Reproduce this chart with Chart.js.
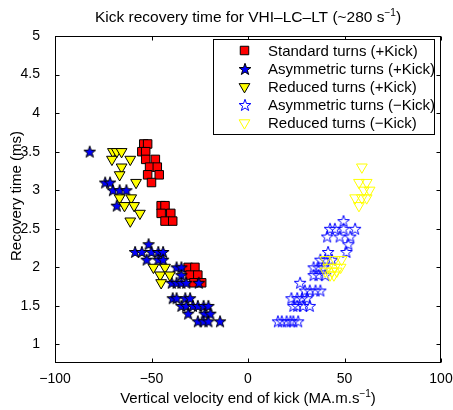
<!DOCTYPE html>
<html>
<head>
<meta charset="utf-8">
<script src="https://cdn.jsdelivr.net/npm/chart.js@4.4.1/dist/chart.umd.min.js"></script>
<style>
  html, body { margin: 0; padding: 0; background: #fff; }
</style>
</head>
<body>
<canvas id="recovery-chart" width="453" height="410"></canvas>
<script>
// values
const standardPlusX = [-54, -52, -55, -53, -53, -48, -51, -47, -52, -46, -50, -45, -43, -45, -40, -43, -39, -31, -27.5, -30, -26, -28, -24];
const standardPlusY = [3.6, 3.6, 3.5, 3.5, 3.4, 3.4, 3.3, 3.3, 3.2, 3.2, 3.1, 2.8, 2.8, 2.7, 2.7, 2.6, 2.6, 2.0, 2.0, 1.9, 1.9, 1.8, 1.8];

const asymPlusX = [-82, -74, -71.5, -70, -66.5, -63, -68, -51.5, -58.5, -55, -50, -46.5, -44, -52.5, -46.5, -44, -37, -34.5, -34.5, -39.5, -37, -34.5, -32, -25.5, -39, -37, -32.5, -30, -34.5, -32, -28.5, -26, -23, -20.5, -31, -22.5, -19.5, -26, -23, -20.5, -14.5];
const asymPlusY = [3.5, 3.1, 3.1, 3.0, 3.0, 3.0, 2.8, 2.3, 2.2, 2.2, 2.2, 2.2, 2.2, 2.1, 2.1, 2.1, 2.0, 2.0, 1.9, 1.8, 1.8, 1.8, 1.8, 1.8, 1.6, 1.6, 1.6, 1.6, 1.5, 1.5, 1.5, 1.5, 1.5, 1.5, 1.4, 1.4, 1.4, 1.3, 1.3, 1.3, 1.3];

const reducedPlusX = [-70, -68, -65.5, -70.5, -61, -65.5, -66.5, -58, -66.5, -60.5, -64, -59, -56, -61, -49, -43, -45.5, -40.5, -45];
const reducedPlusY = [3.5, 3.5, 3.5, 3.4, 3.4, 3.3, 3.2, 3.1, 2.9, 2.9, 2.8, 2.8, 2.7, 2.6, 2.0, 2.0, 1.9, 1.9, 1.8];

const asymMinusX = [49.5, 42.5, 45, 49.5, 55.5, 41, 47.5, 53, 52, 51, 41.5, 40, 43.5, 37.5, 34, 36.5, 39, 34, 36.5, 40, 27, 29.5, 32, 35, 37.5, 22.5, 25.5, 28, 30.5, 23.5, 25.5, 28.5, 32, 15.5, 17.5, 20, 22, 23.5, 26];
const asymMinusY = [2.6, 2.5, 2.5, 2.5, 2.5, 2.4, 2.4, 2.4, 2.3, 2.2, 2.2, 2.1, 2.1, 2.1, 2.0, 2.0, 2.0, 1.9, 1.9, 1.9, 1.8, 1.7, 1.7, 1.7, 1.7, 1.6, 1.6, 1.6, 1.6, 1.5, 1.5, 1.5, 1.5, 1.3, 1.3, 1.3, 1.3, 1.3, 1.3];

const reducedMinusX = [59, 57.5, 61.5, 60, 63, 55.5, 59, 61.5, 57.5, 40, 45, 48.5, 41.5, 45, 48, 40, 43.5, 46, 42.5, 44.5];
const reducedMinusY = [3.3, 3.1, 3.1, 3.0, 3.0, 2.9, 2.9, 2.9, 2.8, 2.1, 2.1, 2.1, 2.0, 2.0, 2.0, 1.95, 1.95, 1.95, 1.9, 1.9];

const seriesLabels = [
  "Standard turns (+Kick)",
  "Asymmetric turns (+Kick)",
  "Reduced turns (+Kick)",
  "Asymmetric turns (\u2212Kick)",
  "Reduced turns (\u2212Kick)",
];
const xTicks = [-100, -50, 0, 50, 100];
const yTicks = [1, 1.5, 2, 2.5, 3, 3.5, 4, 4.5, 5];

const FAMILY = '"Liberation Sans", Arial, Helvetica, sans-serif';
const TITLE_FONT = "15.5px " + FAMILY;
const LABEL_FONT = "15px " + FAMILY;
const SUP_FONT = "10px " + FAMILY;

function toPoints(xs, ys) {
  return xs.map((x, i) => ({ x: x, y: ys[i] }));
}

// MATLAB style pentagram marker
function makeStar(fill, stroke) {
  const size = 14;
  const c = document.createElement("canvas");
  c.width = size;
  c.height = size;
  const g = c.getContext("2d");
  const cx = size / 2, cy = size / 2 + 0.5;
  const R = 6.2, r = R * 0.4;
  g.beginPath();
  for (let i = 0; i < 10; i++) {
    const ang = -Math.PI / 2 + (i * Math.PI) / 5;
    const rad = i % 2 ? r : R;
    const px = cx + Math.cos(ang) * rad;
    const py = cy + Math.sin(ang) * rad;
    if (i === 0) g.moveTo(px, py);
    else g.lineTo(px, py);
  }
  g.closePath();
  if (fill) {
    g.fillStyle = fill;
    g.fill();
  }
  g.lineWidth = 1;
  g.strokeStyle = stroke;
  g.stroke();
  return c;
}

const filledStar = makeStar("#0000ff", "#000000");
const openStar = makeStar(null, "#0000ff");

const datasets = [
  {
    label: seriesLabels[0],
    data: toPoints(standardPlusX, standardPlusY),
    pointStyle: "rect",
    pointRadius: 6,
    backgroundColor: "#ff0000",
    borderColor: "#000000",
    borderWidth: 1,
    order: 5,
  },
  {
    label: seriesLabels[1],
    data: toPoints(asymPlusX, asymPlusY),
    pointStyle: filledStar,
    pointRadius: 6,
    order: 4,
  },
  {
    label: seriesLabels[2],
    data: toPoints(reducedPlusX, reducedPlusY),
    pointStyle: "triangle",
    pointRotation: 180,
    pointRadius: 6.2,
    backgroundColor: "#ffff00",
    borderColor: "#000000",
    borderWidth: 1,
    order: 3,
  },
  {
    label: seriesLabels[3],
    data: toPoints(asymMinusX, asymMinusY),
    pointStyle: openStar,
    pointRadius: 6,
    order: 2,
  },
  {
    label: seriesLabels[4],
    data: toPoints(reducedMinusX, reducedMinusY),
    pointStyle: "triangle",
    pointRotation: 180,
    pointRadius: 6.2,
    backgroundColor: "rgba(0,0,0,0)",
    borderColor: "#ffff00",
    borderWidth: 1,
    order: 1,
  },
];

// text with a trailing "-1" superscript, like the MATLAB tex labels
function drawSupText(ctx, font, before, sup, after, cx, baseline) {
  ctx.font = font;
  const w1 = ctx.measureText(before).width;
  const w3 = ctx.measureText(after).width;
  ctx.font = SUP_FONT;
  const w2 = ctx.measureText(sup).width;
  let x = cx - (w1 + w2 + w3) / 2;
  ctx.textAlign = "left";
  ctx.textBaseline = "alphabetic";
  ctx.font = font;
  ctx.fillText(before, x, baseline);
  x += w1;
  ctx.font = SUP_FONT;
  ctx.fillText(sup, x, baseline - 6);
  x += w2;
  ctx.font = font;
  ctx.fillText(after, x, baseline);
}

function drawMarker(ctx, ds, x, y) {
  const style = ds.pointStyle;
  if (style instanceof HTMLCanvasElement) {
    ctx.drawImage(style, Math.round(x - style.width / 2), Math.round(y - style.height / 2));
    return;
  }
  ctx.beginPath();
  if (style === "rect") {
    const s = ds.pointRadius * Math.SQRT1_2;
    ctx.rect(x - s, y - s, 2 * s, 2 * s);
  } else {
    const r = ds.pointRadius;
    ctx.moveTo(x, y + r);
    ctx.lineTo(x - r * Math.sin(Math.PI / 3), y - r / 2);
    ctx.lineTo(x + r * Math.sin(Math.PI / 3), y - r / 2);
    ctx.closePath();
  }
  ctx.fillStyle = ds.backgroundColor;
  ctx.fill();
  ctx.lineWidth = ds.borderWidth;
  ctx.strokeStyle = ds.borderColor;
  ctx.stroke();
}

const matlabAxes = {
  id: "matlabAxes",
  afterDraw(chart) {
    const { ctx, chartArea: a, scales } = chart;
    const L = Math.round(a.left) + 0.5, R = Math.round(a.right) - 0.5;
    const T = Math.round(a.top) + 0.5, B = Math.round(a.bottom) - 0.5;
    const tickLen = 4;
    ctx.save();
    ctx.strokeStyle = "#000";
    ctx.lineWidth = 1;
    ctx.strokeRect(L, T, R - L, B - T);

    ctx.beginPath();
    xTicks.forEach((v) => {
      const px = Math.round(scales.x.getPixelForValue(v)) + 0.5;
      ctx.moveTo(px, B);
      ctx.lineTo(px, B - tickLen);
      ctx.moveTo(px, T);
      ctx.lineTo(px, T + tickLen);
    });
    yTicks.forEach((v) => {
      const py = Math.round(scales.y.getPixelForValue(v)) + 0.5;
      ctx.moveTo(L, py);
      ctx.lineTo(L + tickLen, py);
      ctx.moveTo(R, py);
      ctx.lineTo(R - tickLen, py);
    });
    ctx.stroke();

    ctx.fillStyle = "#000";
    const midX = (a.left + a.right) / 2;
    drawSupText(ctx, TITLE_FONT, "Kick recovery time for VHI\u2013LC\u2013LT (~280 s", "\u22121", ")", midX, 22);
    drawSupText(ctx, LABEL_FONT, "Vertical velocity end of kick (MA.m.s", "\u22121", ")", midX, 403);

    ctx.save();
    ctx.translate(20.5, 196);
    ctx.rotate(-Math.PI / 2);
    ctx.font = LABEL_FONT;
    ctx.textAlign = "center";
    ctx.textBaseline = "alphabetic";
    ctx.fillText("Recovery time (ms)", 0, 0);
    ctx.restore();

    // legend box
    ctx.fillStyle = "#fff";
    ctx.fillRect(213.5, 39.5, 221, 95);
    ctx.strokeRect(213.5, 39.5, 221, 95);
    datasets.forEach((ds, i) => {
      const base = 55.8 + i * 18.1;
      drawMarker(ctx, ds, 244.5, base - 5.3);
      ctx.fillStyle = "#000";
      ctx.font = LABEL_FONT;
      ctx.textAlign = "left";
      ctx.textBaseline = "alphabetic";
      ctx.fillText(ds.label, 268, base);
    });
    ctx.restore();
  },
};

new Chart(document.getElementById("recovery-chart"), {
  type: "scatter",
  data: { datasets: datasets },
  options: {
    responsive: false,
    animation: false,
    layout: { autoPadding: false, padding: { top: 36, right: 12, left: 0, bottom: 0 } },
    plugins: {
      legend: { display: false },
      title: { display: false },
      tooltip: { enabled: false },
    },
    scales: {
      x: {
        type: "linear",
        min: -100,
        max: 100,
        grid: { display: false },
        border: { display: false },
        afterFit: (scale) => { scale.height = 47; },
        afterBuildTicks: (scale) => { scale.ticks = xTicks.map((v) => ({ value: v })); },
        ticks: {
          color: "#000",
          font: { family: FAMILY, size: 14 },
          padding: 0,
          maxRotation: 0,
          callback: (v) => String(v).replace("-", "\u2212"),
        },
      },
      y: {
        type: "linear",
        min: 0.76,
        max: 5,
        grid: { display: false },
        border: { display: false },
        afterFit: (scale) => { scale.width = 55; },
        afterBuildTicks: (scale) => { scale.ticks = yTicks.map((v) => ({ value: v })); },
        ticks: {
          color: "#000",
          font: { family: FAMILY, size: 14 },
          padding: 7,
          callback: (v) => String(v),
        },
      },
    },
  },
  plugins: [matlabAxes],
});
</script>
</body>
</html>
